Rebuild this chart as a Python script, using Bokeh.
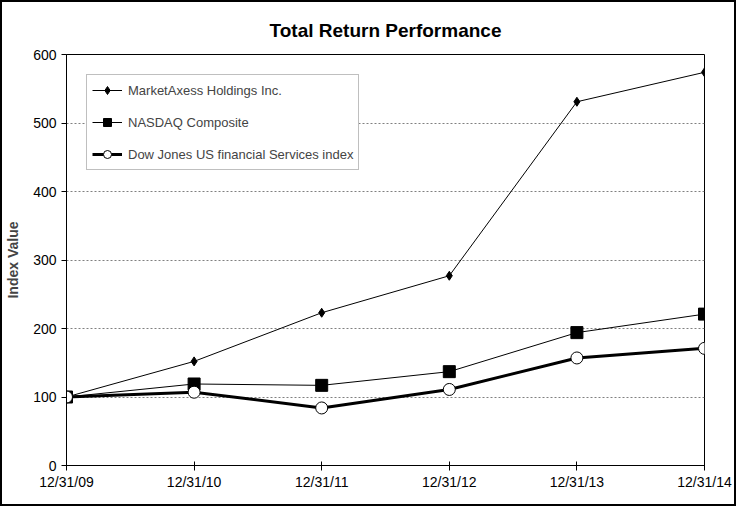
from bokeh.plotting import figure
from bokeh.layouts import column
from bokeh.models import FixedTicker, Range1d, Legend, LegendItem
from bokeh.embed import file_html
from bokeh.resources import INLINE

dates = ["12/31/09", "12/31/10", "12/31/11", "12/31/12", "12/31/13", "12/31/14"]
marketaxess = [100, 152, 223, 277, 531, 574]
nasdaq = [100, 119, 117, 137, 194, 221]
dowjones = [100, 107, 84, 111, 157, 171]
y_ticks = [0, 100, 200, 300, 400, 500, 600]

xs = list(range(len(dates)))
FONT = "Liberation Sans"

p = figure(width=732, height=502, output_backend="svg", toolbar_location=None,
           x_range=Range1d(0, len(dates) - 1), y_range=Range1d(0, 600),
           min_border_left=62, min_border_right=30, min_border_top=52, min_border_bottom=39)

p.title.text = "Total Return Performance"
p.title.align = "center"
p.title.text_font = FONT
p.title.text_font_size = "19px"
p.title.text_font_style = "bold"
p.title.text_color = "black"
p.title.standoff = 28

p.outline_line_color = "black"
p.outline_line_width = 1

p.xaxis.ticker = FixedTicker(ticks=xs)
p.xaxis.major_label_overrides = {i: d for i, d in enumerate(dates)}
p.yaxis.ticker = FixedTicker(ticks=y_ticks)
p.xaxis.minor_tick_line_color = None
p.yaxis.minor_tick_line_color = None
for ax in (p.xaxis, p.yaxis):
    ax.axis_line_color = "black"
    ax.major_tick_line_color = "black"
    ax.major_label_text_font = FONT
    ax.major_label_text_font_size = "14px"
    ax.major_label_text_color = "black"
    ax.major_tick_out = 5
p.xaxis.major_tick_in = 4
p.yaxis.major_tick_in = 0
p.xaxis.major_label_standoff = 3
p.yaxis.axis_label = "Index Value"
p.yaxis.axis_label_text_font = FONT
p.yaxis.axis_label_text_font_style = "bold"
p.yaxis.axis_label_text_font_size = "14px"
p.yaxis.axis_label_standoff = 9

p.xgrid.grid_line_color = None
p.ygrid.grid_line_color = "#808080"
p.ygrid.grid_line_dash = "2 2"
p.ygrid.grid_line_width = 1

r1l = p.line(xs, marketaxess, line_color="black", line_width=1)
r1m = p.scatter(xs, marketaxess, marker="diamond", size=9, fill_color="black", line_color="black")
r2l = p.line(xs, nasdaq, line_color="black", line_width=1)
r2m = p.scatter(xs, nasdaq, marker="square", size=12, fill_color="black", line_color="black")
r3l = p.line(xs, dowjones, line_color="black", line_width=3)
r3m = p.scatter(xs, dowjones, marker="circle", size=12, fill_color="white", line_color="black", line_width=1)

legend = Legend(items=[
    LegendItem(label="MarketAxess Holdings Inc.", renderers=[r1l, r1m]),
    LegendItem(label="NASDAQ Composite", renderers=[r2l, r2m]),
    LegendItem(label="Dow Jones US financial Services index", renderers=[r3l, r3m]),
], location="top_left")
legend.margin = 20
legend.padding = 5
legend.spacing = 12
legend.label_text_font = FONT
legend.label_text_font_size = "13px"
legend.label_standoff = 6
legend.glyph_width = 30
legend.border_line_color = "#808080"
legend.border_line_width = 1
legend.background_fill_alpha = 1
p.add_layout(legend)

layout = column(p, styles={"border": "2px solid black"})

open("out.html", "w").write(file_html(layout, INLINE))
